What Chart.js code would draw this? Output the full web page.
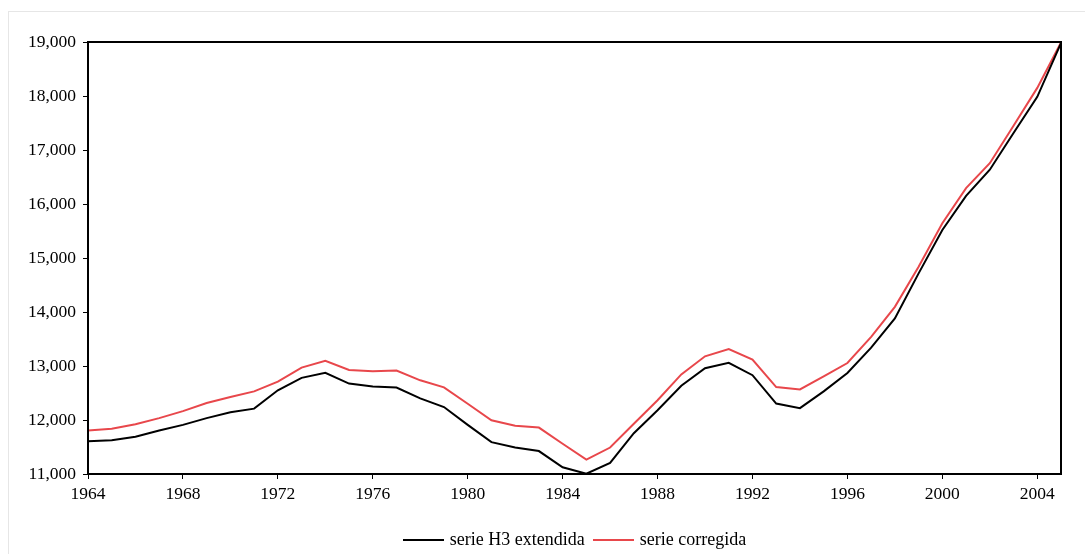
<!DOCTYPE html>
<html>
<head>
<meta charset="utf-8">
<script src="https://cdn.jsdelivr.net/npm/chart.js@4.4.1/dist/chart.umd.min.js"></script>
<style>
  html, body { margin: 0; padding: 0; background: #fff; }
  #wrap { position: relative; width: 1085px; height: 554px; overflow: hidden; }
  #frame { position: absolute; left: 8px; top: 11px; width: 1100px; height: 600px; border: 1px solid #e6e6e6; box-sizing: border-box; }
  #chart { position: absolute; left: 0; top: 0; }
  #legend { position: absolute; left: 88px; width: 973px; top: 529px; text-align: center; font-family: "Liberation Serif", "DejaVu Serif", serif; font-size: 18px; color: #000; white-space: nowrap; }
  #legend span.item { display: inline-block; margin: 0 4px; }
  #legend span.swatch { display: inline-block; width: 41px; height: 2px; vertical-align: middle; margin-right: 6px; position: relative; top: -1px; }
</style>
</head>
<body>
<div id="wrap">
  <div id="frame"></div>
  <canvas id="chart" width="1085" height="554"></canvas>
  <div id="legend"></div>
</div>
<script>
// Data
const years = [1964, 1965, 1966, 1967, 1968, 1969, 1970, 1971, 1972, 1973, 1974, 1975, 1976, 1977,
  1978, 1979, 1980, 1981, 1982, 1983, 1984, 1985, 1986, 1987, 1988, 1989, 1990, 1991,
  1992, 1993, 1994, 1995, 1996, 1997, 1998, 1999, 2000, 2001, 2002, 2003, 2004, 2005];

const serieH3 = [11605, 11625, 11690, 11805, 11910, 12035, 12145, 12210, 12550, 12780, 12875, 12675, 12620, 12600,
  12400, 12240, 11910, 11590, 11490, 11425, 11125, 11005, 11205, 11755, 12180, 12635, 12960, 13060,
  12830, 12305, 12220, 12530, 12870, 13340, 13880, 14715, 15520, 16150, 16635, 17315, 17985, 18980];

const serieCorregida = [11805, 11840, 11920, 12035, 12165, 12315, 12425, 12530, 12710, 12970, 13095, 12925, 12905, 12915,
  12735, 12605, 12300, 11995, 11895, 11860, 11560, 11265, 11490, 11930, 12365, 12845, 13180, 13315,
  13120, 12610, 12565, 12810, 13055, 13540, 14095, 14840, 15645, 16295, 16755, 17450, 18150, 18990];

const seriesNames = ['serie H3 extendida', 'serie corregida'];
const seriesColors = ['#000000', '#e8474b'];

const fontFamily = '"Liberation Serif", "DejaVu Serif", serif';

function toPoints(values) {
  return values.map((v, i) => ({ x: years[i], y: v }));
}

// Draw the black frame around the plot area
const frameBox = {
  id: 'frameBox',
  afterDraw(chart) {
    const a = chart.chartArea;
    const c = chart.ctx;
    c.save();
    c.strokeStyle = '#000';
    c.lineWidth = 2;
    c.strokeRect(a.left, a.top, a.right - a.left, a.bottom - a.top);
    c.restore();
  }
};

const ctx = document.getElementById('chart').getContext('2d');

new Chart(ctx, {
  type: 'line',
  data: {
    datasets: [
      {
        label: seriesNames[0],
        data: toPoints(serieH3),
        borderColor: seriesColors[0],
        borderWidth: 2,
        pointRadius: 0,
        tension: 0
      },
      {
        label: seriesNames[1],
        data: toPoints(serieCorregida),
        borderColor: seriesColors[1],
        borderWidth: 2,
        pointRadius: 0,
        tension: 0
      }
    ]
  },
  options: {
    responsive: false,
    animation: false,
    layout: { padding: { left: 8, top: 42, right: 24, bottom: 50 } },
    plugins: {
      legend: { display: false },
      tooltip: { enabled: false }
    },
    scales: {
      x: {
        type: 'linear',
        min: 1964,
        max: 2005,
        afterFit(scale) { scale.height = 30; },
        afterBuildTicks(scale) {
          scale.ticks = [];
          for (let y = 1964; y <= 2004; y += 4) scale.ticks.push({ value: y });
        },
        grid: { drawOnChartArea: false, drawTicks: true, tickLength: 5, color: '#000', lineWidth: 1 },
        border: { display: false },
        ticks: {
          color: '#000',
          padding: 5,
          maxRotation: 0,
          autoSkip: false,
          font: { family: fontFamily, size: 17.5 },
          callback: v => String(v)
        }
      },
      y: {
        min: 11000,
        max: 19000,
        afterFit(scale) { scale.width = 80; },
        grid: { drawOnChartArea: false, drawTicks: true, tickLength: 5, color: '#000', lineWidth: 1 },
        border: { display: false },
        ticks: {
          stepSize: 1000,
          color: '#000',
          padding: 7,
          font: { family: fontFamily, size: 17.5 },
          callback: v => v.toLocaleString('en-US')
        }
      }
    }
  },
  plugins: [frameBox]
});

// Legend as HTML text, centred under the plot area
const legendEl = document.getElementById('legend');
seriesNames.forEach((name, i) => {
  const item = document.createElement('span');
  item.className = 'item';
  item.innerHTML = `<span class="swatch" style="background:${seriesColors[i]}"></span>${name}`;
  legendEl.appendChild(item);
});
</script>
</body>
</html>
